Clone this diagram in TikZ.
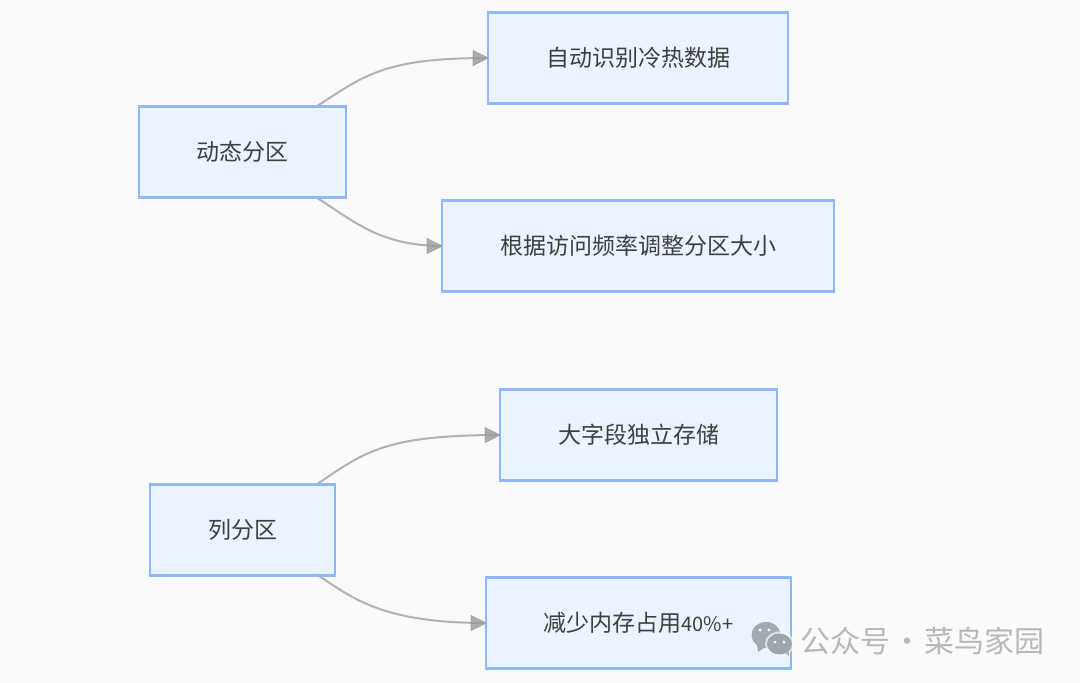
\documentclass[tikz,border=0pt]{standalone}
\usepackage{fontspec}
\setmainfont{Noto Sans CJK SC}
\usetikzlibrary{arrows.meta}
\definecolor{bgc}{HTML}{F9FAFC}
\definecolor{boxfill}{HTML}{E8F4FF}
\definecolor{boxline}{HTML}{90B6FB}
\definecolor{txtc}{HTML}{3F3F3F}
\definecolor{linkc}{HTML}{B2B2B2}
\definecolor{headc}{HTML}{999999}
\definecolor{markc}{HTML}{B6B8BA}
\definecolor{iconc}{HTML}{9FA5AC}
\tikzset{
  box/.style={draw=boxline,fill=boxfill,line width=2.1pt,minimum height=91pt,inner sep=0pt,outer sep=0pt,text=txtc,font=\fontsize{23}{23}\selectfont},
  link/.style={draw=linkc,line width=2pt},
  tiphead/.style={fill=headc,draw=headc,line width=0.8pt,line join=miter},
}
\begin{document}
\begin{tikzpicture}[x=1pt,y=-1pt]
\useasboundingbox[fill=bgc] (0,0) rectangle (1080,683);
\node[box,minimum width=207pt] (A) at (242.5,152) {动态分区};
\node[box,minimum width=300pt] (B) at (638,58) {自动识别冷热数据};
\node[box,minimum width=392pt] (C) at (638,246) {根据访问频率调整分区大小};
\node[box,minimum width=185pt] (D) at (242.5,530) {列分区};
\node[box,minimum width=277pt] (E) at (638.5,435) {大字段独立存储};
\node[box,minimum width=305pt] (F) at (638.5,623) {减少内存占用{\fontsize{20}{20}\selectfont 40\%+}};
\coordinate (a1) at (318,105.5);
\coordinate (a2) at (318,198.5);
\coordinate (d1) at (318,483.5);
\coordinate (d2) at (318,575.5);
\draw[link] (a1) .. controls (365,75) and (385,58) .. (B.west);
\draw[link] (a2) .. controls (352,220) and (380,246) .. (C.west);
\draw[link] (d1) .. controls (365,452) and (385,435) .. (E.west);
\draw[link] (d2) .. controls (352,597) and (380,623) .. (F.west);
\foreach \n in {B,C,E,F}{
  \draw[tiphead,fill opacity=.8,draw opacity=.8] (\n.west) -- ++(-15,-7.5) -- ++(0,15) -- cycle;
}
% watermark
\fill[iconc,opacity=.95] (766,635) ellipse [x radius=14.5pt,y radius=13pt];
\fill[iconc,opacity=.95] (757,645) -- (758,652) -- (765,647) -- cycle;
\fill[bgc,opacity=.7] (779.5,644) ellipse [x radius=14.5pt,y radius=12.5pt];
\fill[iconc] (779.5,644) ellipse [x radius=12.5pt,y radius=10.5pt];
\fill[iconc] (785,652) -- (789,656) -- (788,650) -- cycle;
\fill[white] (760,630) circle (1.7pt) (769,630) circle (1.7pt) (775,642) circle (1.5pt) (784,642) circle (1.5pt);
\node[text=markc,font=\fontsize{30}{30}\selectfont,inner sep=0pt,anchor=west] (W) at (800,640.5) {公众号\hspace{-4.5pt} · \hspace{-4.5pt}菜鸟家园};
\end{tikzpicture}
\end{document}
